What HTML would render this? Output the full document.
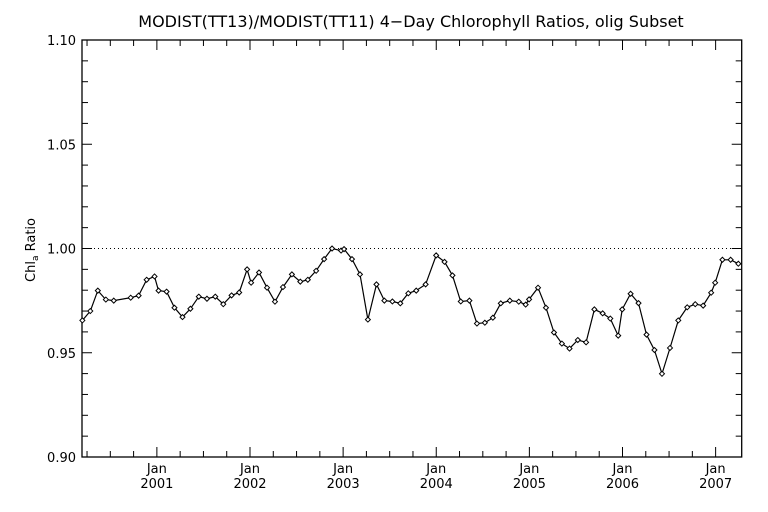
<!DOCTYPE html>
<html><head><meta charset="utf-8"><style>
body{margin:0;background:#fff;}
svg{display:block;font-family:"DejaVu Sans","Liberation Sans",sans-serif;}
</style></head><body>
<svg id="chart" width="768" height="512" viewBox="0 0 768 512" xmlns="http://www.w3.org/2000/svg">
<rect x="0" y="0" width="768" height="512" fill="#fff"/>
<text x="411" y="27" text-anchor="middle" font-size="16" fill="#000">MODIST(TT13)/MODIST(TT11) 4−Day Chlorophyll Ratios, olig Subset</text>
<text transform="translate(35,250) rotate(-90)" text-anchor="middle" font-size="13" fill="#000">Chl<tspan font-size="9" dy="3">a</tspan><tspan dy="-3"> Ratio</tspan></text>
<g id="axes"></g>
<g id="marks"></g>
</svg>
<script>
const years = [0.200,0.285,0.366,0.452,0.537,0.719,0.804,0.890,0.975,1.018,1.104,1.189,1.275,1.360,1.450,1.538,1.627,1.713,1.802,1.884,1.969,2.012,2.097,2.183,2.268,2.354,2.450,2.540,2.621,2.710,2.796,2.881,2.978,3.010,3.095,3.181,3.266,3.358,3.443,3.529,3.614,3.700,3.785,3.886,3.999,4.089,4.174,4.263,4.356,4.437,4.522,4.608,4.693,4.790,4.886,4.960,4.997,5.093,5.178,5.264,5.349,5.431,5.520,5.609,5.698,5.787,5.869,5.954,5.997,6.087,6.172,6.258,6.343,6.424,6.510,6.599,6.695,6.781,6.866,6.952,6.995,7.073,7.161,7.244];
const ratios = [0.9655,0.970,0.9798,0.9755,0.975,0.9764,0.9774,0.985,0.9866,0.9798,0.9793,0.9716,0.9671,0.9711,0.9769,0.9759,0.9769,0.9733,0.9775,0.9789,0.990,0.9836,0.9885,0.9812,0.9745,0.9815,0.9876,0.9841,0.985,0.9893,0.9949,1.000,0.9990,0.9997,0.9949,0.9876,0.9659,0.9828,0.975,0.9746,0.9737,0.9785,0.9798,0.9828,0.9967,0.9936,0.9871,0.9746,0.975,0.964,0.9644,0.9668,0.9737,0.975,0.9745,0.9731,0.9756,0.9812,0.9716,0.9597,0.9544,0.952,0.9561,0.955,0.9708,0.9689,0.9664,0.9582,0.9708,0.9783,0.9738,0.9587,0.9513,0.9399,0.9523,0.9655,0.9718,0.9733,0.9726,0.9788,0.9836,0.9946,0.9946,0.9927];
const yTickValues = [0.90,0.95,1.00,1.05,1.10];
const yTickLabels = ["0.90","0.95","1.00","1.05","1.10"];
const xTickYears = [1,2,3,4,5,6,7];
const xTickLabels = ["2001","2002","2003","2004","2005","2006","2007"];

const L=82, R=741.7, T=40, B=457;
const X0=0.196, X1=7.28, Y0=0.90, Y1=1.10;
const sx = v => L + (v - X0) / (X1 - X0) * (R - L);
const sy = v => B - (v - Y0) / (Y1 - Y0) * (B - T);
const NS="http://www.w3.org/2000/svg";
const axes=document.getElementById('axes'), marks=document.getElementById('marks');
function mk(tag, attrs, parent){const e=document.createElementNS(NS,tag);for(const k in attrs)e.setAttribute(k,attrs[k]);parent.appendChild(e);return e;}

const frame=mk('rect',{x:L,y:T,width:R-L,height:B-T,fill:'none',stroke:'#000','stroke-width':1.3},axes);



const ref=mk('line',{x1:L,x2:R,y1:sy(1.0),y2:sy(1.0),stroke:'#000','stroke-width':1,'stroke-dasharray':'1,3'},axes);



for(let v=90; v<=110; v++){
  const val=v/100, y=sy(val), major=(v%5===0), len=major?10:6;
  const t1=mk('line',{x1:L,x2:L+len,y1:y,y2:y,stroke:'#000','stroke-width':1},axes);
  
  
  const t2=mk('line',{x1:R,x2:R-len,y1:y,y2:y,stroke:'#000','stroke-width':1},axes);
  
  
}
yTickValues.forEach((v,i)=>{
  const t=mk('text',{x:L-6,y:sy(v)+5,'text-anchor':'end','font-size':13,fill:'#000'},axes);
  t.textContent=yTickLabels[i];
  
  
});
for(let q=1; q<=28; q++){
  const v=q/4; if(v<X0||v>X1) continue;
  const major=(q%4===0), len=major?10:6, x=sx(v);
  const t1=mk('line',{x1:x,x2:x,y1:B,y2:B-len,stroke:'#000','stroke-width':1},axes);
  
  
  const t2=mk('line',{x1:x,x2:x,y1:T,y2:T+len,stroke:'#000','stroke-width':1},axes);
  
  
}
xTickYears.forEach((v,i)=>{
  const x=sx(v);
  const a=mk('text',{x:x,y:B+16,'text-anchor':'middle','font-size':13,fill:'#000'},axes);
  a.textContent='Jan';
  
  
  const b=mk('text',{x:x,y:B+31,'text-anchor':'middle','font-size':13,fill:'#000'},axes);
  b.textContent=xTickLabels[i];
  
  
});

const pts=years.map((v,i)=>sx(v).toFixed(1)+','+sy(ratios[i]).toFixed(1)).join(' ');
const line=mk('polyline',{points:pts,fill:'none',stroke:'#000','stroke-width':1.2},marks);


years.forEach((v,i)=>{
  const x=sx(v), y=sy(ratios[i]);
  const d=mk('polygon',{points:`${x},${y-2.5} ${x+2.5},${y} ${x},${y+2.5} ${x-2.5},${y}`,fill:'#fff',stroke:'#000','stroke-width':1},marks);
  
  
});
</script>
</body></html>
